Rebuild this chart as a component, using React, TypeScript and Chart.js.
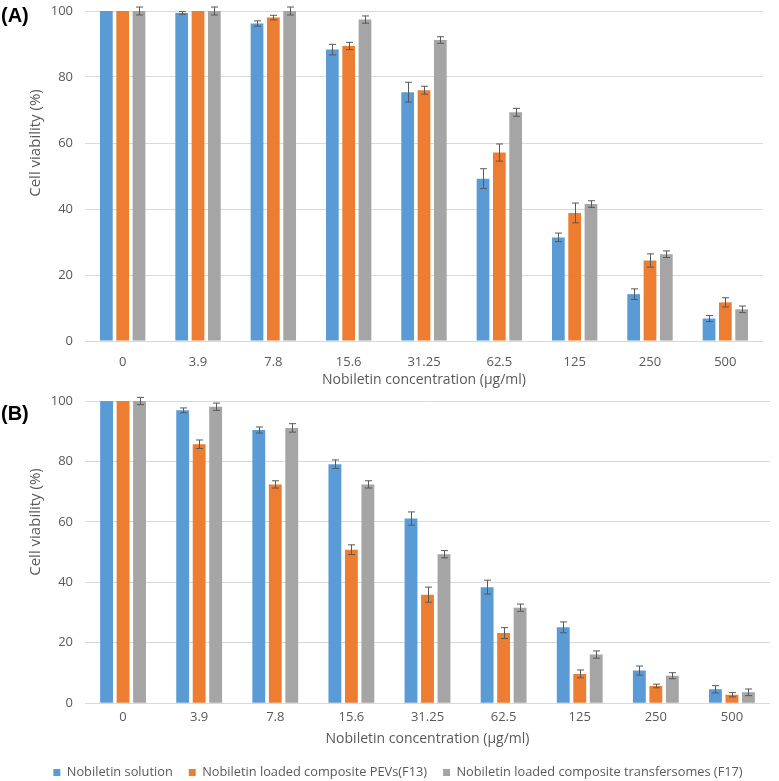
import React, { useEffect, useRef } from "react";
import { Chart, registerables } from "chart.js";

Chart.register(...registerables);

const categories = ["0", "3.9", "7.8", "15.6", "31.25", "62.5", "125", "250", "500"];
const seriesLabels = [
  "Nobiletin solution",
  "Nobiletin loaded composite PEVs(F13)",
  "Nobiletin loaded composite transfersomes (F17)",
];
const seriesColors = ["#5B9BD5", "#ED7D31", "#A5A5A5"];
const yTicks = [0, 20, 40, 60, 80, 100];

// Panel A
const aSolution = [100, 99.4, 96.2, 88.3, 75.4, 49.2, 31.4, 14.2, 6.8];
const aSolutionErr = [0, 0.4, 0.8, 1.6, 3.0, 3.0, 1.3, 1.6, 0.9];
const aPEV = [100, 100, 98.0, 89.4, 76.0, 57.1, 38.8, 24.4, 11.7];
const aPEVErr = [0, 0, 0.7, 1.1, 1.2, 2.6, 3.0, 2.0, 1.4];
const aTrans = [100, 100, 100, 97.4, 91.2, 69.3, 41.5, 26.3, 9.6];
const aTransErr = [1.2, 1.2, 1.2, 1.1, 1.0, 1.2, 1.0, 1.0, 1.0];

// Panel B
const bSolution = [100, 96.9, 90.4, 79.1, 61.1, 38.4, 25.1, 10.8, 4.6];
const bSolutionErr = [0, 0.8, 1.0, 1.4, 2.2, 2.3, 1.8, 1.5, 1.2];
const bPEV = [100, 85.7, 72.4, 50.8, 35.9, 23.2, 9.7, 5.7, 2.8];
const bPEVErr = [0, 1.4, 1.2, 1.6, 2.5, 1.8, 1.3, 0.6, 0.7];
const bTrans = [100, 98.1, 91.1, 72.4, 49.3, 31.6, 16.1, 9.1, 3.6];
const bTransErr = [1.2, 1.2, 1.4, 1.2, 1.2, 1.2, 1.2, 1.0, 1.1];

const FONT = "'Open Sans', 'Liberation Sans', sans-serif";
const TEXT = "#595959";

const errorBarPlugin = {
  id: "errorBars",
  afterDatasetsDraw(chart: any) {
    const ctx = chart.ctx;
    const yScale = chart.scales.y;
    ctx.save();
    ctx.strokeStyle = "#595959";
    ctx.lineWidth = 1;
    chart.data.datasets.forEach((ds: any, i: number) => {
      const meta = chart.getDatasetMeta(i);
      const errs: number[] = ds.errors || [];
      meta.data.forEach((el: any, j: number) => {
        const e = errs[j];
        if (!e) return;
        const v = ds.data[j];
        const x = Math.round(el.x) + 0.5;
        const yTop = yScale.getPixelForValue(v + e);
        const yBot = yScale.getPixelForValue(v - e);
        const cap = 3.5;
        ctx.beginPath();
        ctx.moveTo(x, yTop);
        ctx.lineTo(x, yBot);
        ctx.moveTo(x - cap, yTop);
        ctx.lineTo(x + cap, yTop);
        ctx.moveTo(x - cap, yBot);
        ctx.lineTo(x + cap, yBot);
        ctx.stroke();
      });
    });
    ctx.restore();
  },
};

const yTitlePlugin = {
  id: "yTitle",
  afterDraw(chart: any, _args: any, opts: any) {
    const ctx = chart.ctx;
    ctx.save();
    ctx.translate(opts.x, opts.y);
    ctx.rotate(-Math.PI / 2);
    ctx.fillStyle = TEXT;
    ctx.font = `15px ${FONT}`;
    ctx.textAlign = "center";
    ctx.textBaseline = "middle";
    ctx.fillText(opts.text, 0, 0);
    ctx.restore();
  },
};

type PanelProps = {
  values: number[][];
  errors: number[][];
  legend: boolean;
  height: number;
  leftPad: number;
  yWidth: number;
  rightPad: number;
  bottomPad: number;
  xAxisHeight: number;
  tickPad: number;
  titlePad: number;
  titleY: number;
};

function Panel({ values, errors, legend, height, leftPad, yWidth, rightPad, bottomPad, xAxisHeight, tickPad, titlePad, titleY }: PanelProps) {
  const ref = useRef<HTMLCanvasElement | null>(null);
  useEffect(() => {
    if (!ref.current) return;
    const chart = new Chart(ref.current, {
      type: "bar",
      data: {
        labels: categories,
        datasets: values.map((v, i) => ({
          label: seriesLabels[i],
          data: v,
          errors: errors[i],
          backgroundColor: seriesColors[i],
          borderWidth: 0,
          categoryPercentage: 0.65,
          barPercentage: 0.78,
        })) as any,
      },
      options: {
        animation: false,
        responsive: false,
        maintainAspectRatio: false,
        layout: { padding: { left: leftPad, right: rightPad, top: 11, bottom: bottomPad } },
        plugins: {
          legend: {
            display: legend,
            position: "bottom",
            labels: {
              color: TEXT,
              font: { family: FONT, size: 12.8 },
              boxWidth: 7,
              boxHeight: 7,
              padding: 16,
            },
          },
          tooltip: { enabled: false },
          yTitle: { text: "Cell viability (%)", x: 36, y: titleY },
        } as any,
        scales: {
          x: {
            grid: { display: false, drawTicks: false },
            border: { display: false },
            ticks: { color: TEXT, font: { family: FONT, size: 13 }, padding: tickPad },
            title: {
              display: true,
              text: "Nobiletin concentration (µg/ml)",
              color: TEXT,
              font: { family: FONT, size: 14 },
              padding: { top: 0, bottom: titlePad },
            },
            afterFit(scale: any) {
              scale.height = xAxisHeight;
            },
          },
          y: {
            min: 0,
            max: 100,
            afterBuildTicks(scale: any) {
              scale.ticks = yTicks.map((v) => ({ value: v }));
            },
            grid: { color: "#D9D9D9", drawTicks: false, lineWidth: 1 },
            border: { display: false },
            ticks: { color: TEXT, font: { family: FONT, size: 13 }, padding: 12 },
            afterFit(scale: any) {
              scale.width = yWidth;
              scale.paddingTop = 0;
              scale.paddingBottom = 0;
            },
          },
        },
      },
      plugins: [errorBarPlugin, yTitlePlugin],
    });
    return () => chart.destroy();
  }, []);
  return <canvas ref={ref} width={779} height={height} style={{ display: "block", width: 779, height }} />;
}

const labelStyle: React.CSSProperties = {
  position: "absolute",
  left: 1,
  fontFamily: "'Liberation Sans', Arial, sans-serif",
  fontWeight: "bold",
  fontSize: 20,
  color: "#000",
  lineHeight: "20px",
};

export default function App() {
  return (
    <div style={{ position: "absolute", left: 0, top: 0, width: 779, height: 781, background: "#fff" }}>
      <div style={{ position: "absolute", left: 0, top: 0 }}>
        <Panel
          values={[aSolution, aPEV, aTrans]}
          errors={[aSolutionErr, aPEVErr, aTransErr]}
          legend={false}
          height={390}
          leftPad={0}
          yWidth={85}
          rightPad={16}
          bottomPad={0}
          xAxisHeight={49}
          tickPad={13}
          titlePad={2}
          titleY={143}
        />
      </div>
      <div style={{ position: "absolute", left: 0, top: 390 }}>
        <Panel
          values={[bSolution, bPEV, bTrans]}
          errors={[bSolutionErr, bPEVErr, bTransErr]}
          legend={true}
          height={391}
          leftPad={26}
          yWidth={59}
          rightPad={9}
          bottomPad={-8}
          xAxisHeight={47}
          tickPad={6}
          titlePad={3}
          titleY={132}
        />
      </div>
      <div style={{ ...labelStyle, top: 5 }}>(A)</div>
      <div style={{ ...labelStyle, top: 403 }}>(B)</div>
    </div>
  );
}
